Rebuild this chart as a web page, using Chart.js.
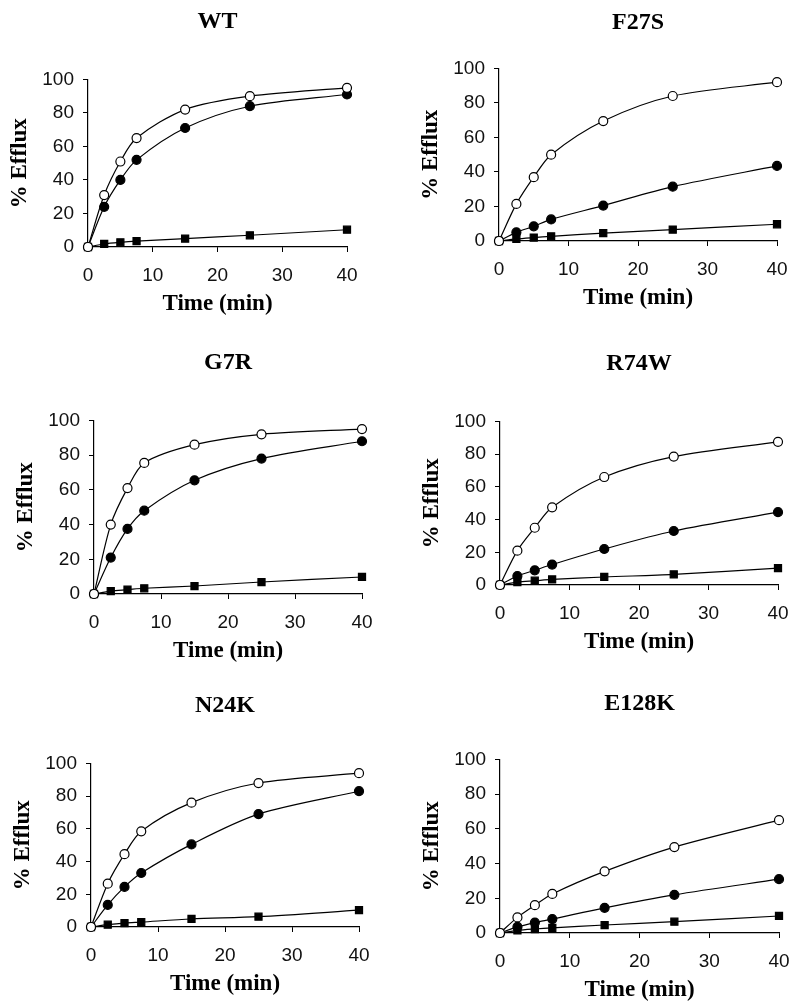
<!DOCTYPE html>
<html lang="en">
<head>
<meta charset="UTF-8">
<title>% Efflux time course</title>
<script src="https://cdn.jsdelivr.net/npm/chart.js"></script>
<style>
  body { margin: 0; background: #fff; }
  #page { position: relative; width: 800px; height: 1007px; overflow: hidden; }
  .panel { position: absolute; }
</style>
</head>
<body>
<div id="page"></div>
<script>
// time points (min)
const times = [0, 2.5, 5, 7.5, 15, 25, 40];
const panelNames = ['WT', 'F27S', 'G7R', 'R74W', 'N24K', 'E128K'];

// % efflux: open circles, filled circles, squares
const wtOpen     = [0, 31, 51, 65, 82, 90, 95];
const wtFilled   = [0, 24, 40, 52, 71, 84, 91];
const wtSquare   = [0, 1.8, 2.8, 3.5, 5, 7, 10.3];

const f27sOpen   = [0, 21.5, 37, 50, 69.5, 84, 92];
const f27sFilled = [0, 5, 8.5, 12.5, 20.5, 31.5, 43.5];
const f27sSquare = [0, 1.2, 2, 2.7, 4.6, 6.6, 9.7];

const g7rOpen    = [0, 40, 61, 75.5, 86, 92, 95];
const g7rFilled  = [0, 21, 37.5, 48, 65.5, 78, 88];
const g7rSquare  = [0, 1.7, 2.5, 3.3, 4.6, 6.9, 9.8];

const r74wOpen   = [0, 21, 35, 47.5, 66, 78.5, 87.5];
const r74wFilled = [0, 5.5, 9, 12.5, 22, 33, 44.5];
const r74wSquare = [0, 1.8, 2.6, 3.4, 4.9, 6.5, 10.3];

const n24kOpen   = [0, 26.5, 44.5, 58.5, 76, 88, 94];
const n24kFilled = [0, 13.5, 24.5, 33, 50.5, 69, 83];
const n24kSquare = [0, 1.4, 2.4, 3, 4.9, 6.3, 10.3];

const e128kOpen   = [0, 9, 16, 22.5, 35.5, 49.5, 65];
const e128kFilled = [0, 3.5, 6, 8, 14.5, 22, 31];
const e128kSquare = [0, 1.5, 2.3, 2.9, 4.6, 6.5, 9.8];

const seriesByPanel = [
    [wtOpen, wtFilled, wtSquare],
    [f27sOpen, f27sFilled, f27sSquare],
    [g7rOpen, g7rFilled, g7rSquare],
    [r74wOpen, r74wFilled, r74wSquare],
    [n24kOpen, n24kFilled, n24kSquare],
    [e128kOpen, e128kFilled, e128kSquare],
];

// plot boxes on the page (pixels) + gap from plot top to title centre
const plotBoxes = [
    { left: 88,  right: 347, top: 79,  bottom: 247, titleGap: 58 },
    { left: 499, right: 777, top: 68,  bottom: 241, titleGap: 46 },
    { left: 94,  right: 362, top: 420, bottom: 594, titleGap: 58 },
    { left: 500, right: 778, top: 421, bottom: 585, titleGap: 58 },
    { left: 91,  right: 359, top: 763, bottom: 927, titleGap: 58 },
    { left: 500, right: 779, top: 759, bottom: 933, titleGap: 56 },
];

const Y_AXIS_W = 88;
const X_AXIS_H = 72;
const PAD_R = 25;
const TITLE_SIZE = 24;
const serif = '"Liberation Serif", "Times New Roman", serif';
const sans = '"Liberation Sans", Arial, sans-serif';

const page = document.getElementById('page');

const lineStyle = (label, values, fill, shape, radius) => ({
    label: label,
    data: values.map((v, k) => ({ x: times[k], y: v })),
    borderColor: '#000',
    borderWidth: 1.2,
    tension: 0.3,
    pointStyle: shape,
    pointRadius: radius,
    pointBackgroundColor: fill,
    pointBorderColor: '#000',
    pointBorderWidth: 1.2,
    clip: false,
});

panelNames.forEach((name, i) => {
    const g = plotBoxes[i];
    const padBottom = g.titleGap - TITLE_SIZE * 1.2 / 2;
    const titleH = 2 + TITLE_SIZE * 1.2 + padBottom;
    const w = Math.round((g.right - g.left) + Y_AXIS_W + PAD_R);
    const h = Math.round((g.bottom - g.top) + titleH + X_AXIS_H);

    const wrap = document.createElement('div');
    wrap.className = 'panel';
    wrap.style.left = (g.left - Y_AXIS_W) + 'px';
    wrap.style.top = (g.top - titleH) + 'px';
    const canvas = document.createElement('canvas');
    canvas.width = w;
    canvas.height = h;
    wrap.appendChild(canvas);
    page.appendChild(wrap);

    const [open, filled, square] = seriesByPanel[i];

    new Chart(canvas, {
        type: 'line',
        data: {
            datasets: [
                lineStyle('open', open, '#fff', 'circle', 4.5),
                lineStyle('filled', filled, '#000', 'circle', 4.5),
                lineStyle('square', square, '#000', 'rect', 5),
            ]
        },
        options: {
            responsive: false,
            animation: false,
            layout: { padding: { left: 0, right: PAD_R, top: 0, bottom: 0 } },
            scales: {
                x: {
                    type: 'linear',
                    min: 0,
                    max: 40,
                    ticks: { stepSize: 10, color: '#111', padding: 12, font: { family: sans, size: 19 } },
                    grid: { display: true, drawOnChartArea: false, drawTicks: true, tickLength: 5, color: '#000', lineWidth: 1 },
                    border: { display: true, color: '#000', width: 1.2 },
                    title: {
                        display: true,
                        text: 'Time (min)',
                        color: '#000',
                        font: { family: serif, size: 23, weight: 'bold' },
                        padding: { top: 0, bottom: 1 }
                    },
                    afterFit: (s) => { s.height = X_AXIS_H; }
                },
                y: {
                    min: 0,
                    max: 100,
                    ticks: { stepSize: 20, color: '#111', padding: 9, font: { family: sans, size: 19 } },
                    grid: { display: true, drawOnChartArea: false, drawTicks: true, tickLength: 5, color: '#000', lineWidth: 1 },
                    border: { display: true, color: '#000', width: 1.2 },
                    title: {
                        display: true,
                        text: '% Efflux',
                        color: '#000',
                        font: { family: serif, size: 23, weight: 'bold' },
                        padding: { top: 6, bottom: 0 }
                    },
                    afterFit: (s) => { s.width = Y_AXIS_W; }
                }
            },
            plugins: {
                legend: { display: false },
                tooltip: { enabled: false },
                title: {
                    display: true,
                    text: name,
                    fullSize: false,
                    color: '#000',
                    font: { family: serif, size: TITLE_SIZE, weight: 'bold' },
                    padding: { top: 2, bottom: padBottom }
                }
            }
        }
    });
});
</script>
</body>
</html>
